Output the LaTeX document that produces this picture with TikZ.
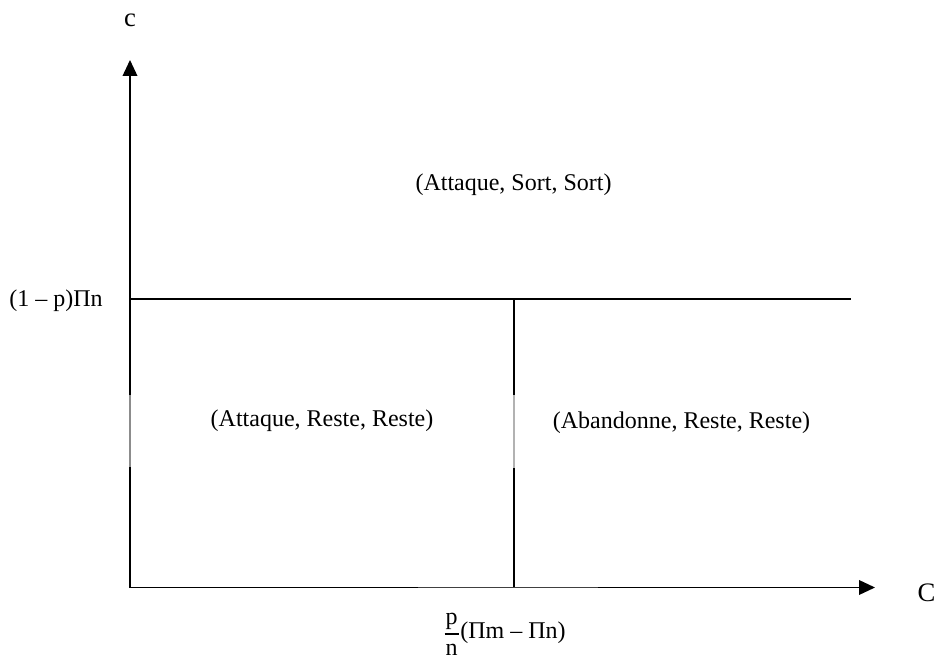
\documentclass[tikz,border=0pt]{standalone}
\usepackage{fontspec}
\setmainfont{Liberation Serif}
\usetikzlibrary{arrows.meta}
\tikzset{
  axisline/.style={line width=1.2pt, -{Triangle[length=12pt,width=11pt]}},
  boundary/.style={line width=1.2pt},
  faded/.style={line width=1.2pt, draw=#1},
  fracbar/.style={line width=0.8pt},
  lbl/.style={font=\fontsize{18}{21}\selectfont, inner sep=0pt},
  axislbl/.style={font=\fontsize{20}{23}\selectfont, inner sep=0pt},
}
\begin{document}
\begin{tikzpicture}[x=0.75pt, y=-0.75pt]
  \useasboundingbox (0,0) rectangle (940,659);

  % key points of the diagram
  \coordinate (O)    at (130,587.5);
  \coordinate (ytop) at (130,60);
  \coordinate (xend) at (875,587.5);
  \coordinate (hl)   at (130,299);
  \coordinate (hr)   at (851,299);
  \coordinate (vt)   at (514,299);
  \coordinate (vb)   at (514,587.5);

  % axes
  \draw[axisline] (O) -- (ytop);
  \draw[axisline] (O) -- (xend);

  % threshold lines
  \draw[boundary] (hl) -- (hr);
  \draw[boundary] (vt) -- (vb);

  % lighter stretches along the lines
  \coordinate (ga1) at (130,395);
  \coordinate (ga2) at (130,467);
  \coordinate (gb1) at (514,395);
  \coordinate (gb2) at (514,468);
  \coordinate (gc1) at (418,587.5);
  \coordinate (gc2) at (598,587.5);
  \draw[faded=black!45] (ga1) -- (ga2);
  \draw[faded=black!30] (gb1) -- (gb2);
  \draw[faded=black!75] (gc1) -- (gc2);

  % axis names
  \node[axislbl] (ylabel) at (130,20) {c};
  \node[axislbl] (xlabel) at (926.5,593) {C};

  % threshold on c
  \node[lbl] (cth) at (56,301) {(1 – p)Πn};

  % threshold on C: p over n, then the bracket
  \node[lbl, anchor=south] (fnum) at (451.5,630) {p};
  \node[lbl, anchor=north] (fden) at (451.5,644) {n};
  \coordinate (fbl) at (444.5,634);
  \coordinate (fbr) at (458.5,634);
  \draw[fracbar] (fbl) -- (fbr);
  \node[lbl, anchor=west] (fpar) at (460,633) {(Πm – Πn)};

  % regions
  \node[lbl] (top)   at (513.5,185)   {(Attaque, Sort, Sort)};
  \node[lbl] (left)  at (322,421)     {(Attaque, Reste, Reste)};
  \node[lbl] (right) at (681.5,422.5) {(Abandonne, Reste, Reste)};
\end{tikzpicture}
\end{document}
